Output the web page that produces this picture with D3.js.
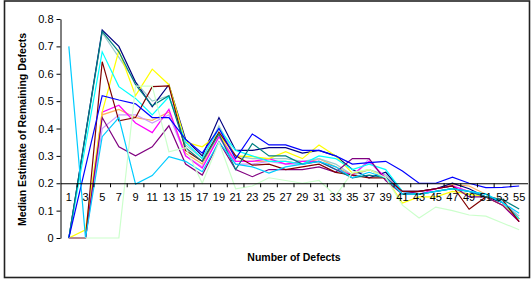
<!DOCTYPE html>
<html>
<head>
<meta charset="utf-8">
<script src="https://cdn.jsdelivr.net/npm/d3@7"></script>
<style>
  body { margin: 0; background: #fff; }
  svg { display: block; font-family: "Liberation Sans", Arial, sans-serif; }
</style>
</head>
<body>
<div id="chart"></div>
<script>
// defects chart — many series of median estimates, x axis crossing at 0.2

const categories = [1, 3, 5, 7, 9, 11, 13, 15, 17, 19, 21, 23, 25, 27,
                    29, 31, 33, 35, 37, 39, 41, 43, 45, 47, 49, 51, 53, 55];
const yTicks = [0, 0.1, 0.2, 0.3, 0.4, 0.5, 0.6, 0.7, 0.8];

const seriesNames  = ["orange", "lavender", "paleturq", "navy", "magenta", "yellow", "cyan",
                      "purple", "darkred", "teal", "blue", "skyblue", "lightgreen"];
const seriesColors = ["#FFB060", "#CC99FF", "#99CCCC", "#000080", "#FF00FF", "#FFFF00", "#00FFFF",
                      "#800080", "#800000", "#008080", "#0000FF", "#00CCFF", "#CCFFCC"];

const orange    = [0, 0, 0.45, 0.47, 0.44, 0.43, 0.46, 0.31, 0.27, 0.38, 0.28, 0.28, 0.28, 0.28, 0.27, 0.29, 0.26, 0.23, 0.25, 0.22, 0.16, 0.17, 0.18, 0.195, 0.19, 0.16, 0.13, 0.07];
const lavender  = [0, 0, 0.40, 0.45, 0.45, 0.42, 0.45, 0.30, 0.26, 0.37, 0.27, 0.27, 0.28, 0.27, 0.27, 0.28, 0.25, 0.22, 0.29, 0.21, 0.17, 0.17, 0.18, 0.19, 0.17, 0.15, 0.13, 0.08];
const paleturq  = [0, 0.37, 0.75, 0.66, 0.57, 0.50, 0.52, 0.34, 0.29, 0.41, 0.30, 0.29, 0.29, 0.29, 0.28, 0.29, 0.27, 0.23, 0.25, 0.23, 0.17, 0.16, 0.17, 0.18, 0.16, 0.15, 0.13, 0.08];
const navy      = [0, 0.38, 0.76, 0.70, 0.57, 0.48, 0.56, 0.36, 0.30, 0.44, 0.32, 0.32, 0.33, 0.33, 0.31, 0.32, 0.30, 0.25, 0.22, 0.24, 0.17, 0.17, 0.18, 0.20, 0.18, 0.15, 0.13, 0.07];
const magenta   = [0, 0, 0.46, 0.485, 0.42, 0.385, 0.47, 0.30, 0.255, 0.37, 0.28, 0.28, 0.29, 0.27, 0.28, 0.28, 0.25, 0.23, 0.28, 0.22, 0.17, 0.16, 0.18, 0.19, 0.17, 0.15, 0.12, 0.06];
const yellow    = [0, 0.03, 0.46, 0.685, 0.52, 0.617, 0.56, 0.35, 0.333, 0.38, 0.30, 0.297, 0.29, 0.315, 0.29, 0.34, 0.30, 0.237, 0.25, 0.22, 0.128, 0.15, 0.15, 0.17, 0.16, 0.15, 0.12, 0.07];
const cyan      = [0, 0.34, 0.68, 0.553, 0.51, 0.45, 0.516, 0.35, 0.29, 0.40, 0.32, 0.30, 0.28, 0.28, 0.27, 0.30, 0.29, 0.25, 0.27, 0.25, 0.17, 0.16, 0.17, 0.18, 0.17, 0.16, 0.13, 0.07];
const purple    = [0, 0, 0.44, 0.333, 0.30, 0.333, 0.41, 0.27, 0.23, 0.352, 0.25, 0.224, 0.25, 0.25, 0.25, 0.26, 0.24, 0.29, 0.29, 0.21, 0.16, 0.17, 0.18, 0.19, 0.15, 0.15, 0.12, 0.06];
const darkred   = [0, 0, 0.644, 0.428, 0.44, 0.553, 0.556, 0.32, 0.28, 0.387, 0.30, 0.266, 0.27, 0.25, 0.26, 0.27, 0.24, 0.23, 0.22, 0.22, 0.17, 0.17, 0.18, 0.19, 0.105, 0.15, 0.14, 0.06];
const teal      = [0, 0.38, 0.755, 0.68, 0.56, 0.483, 0.52, 0.33, 0.28, 0.38, 0.25, 0.345, 0.30, 0.30, 0.27, 0.28, 0.25, 0.22, 0.23, 0.22, 0.16, 0.16, 0.17, 0.18, 0.17, 0.15, 0.14, 0.106];
const blue      = [0, 0.26, 0.52, 0.504, 0.49, 0.44, 0.44, 0.36, 0.31, 0.40, 0.29, 0.38, 0.34, 0.34, 0.32, 0.32, 0.30, 0.27, 0.275, 0.28, 0.245, 0.20, 0.20, 0.222, 0.20, 0.184, 0.185, 0.19];
const skyblue   = [0.70, 0, 0.37, 0.44, 0.197, 0.228, 0.297, 0.28, 0.242, 0.35, 0.27, 0.26, 0.237, 0.26, 0.27, 0.28, 0.26, 0.22, 0.24, 0.22, 0.16, 0.16, 0.17, 0.18, 0.17, 0.16, 0.13, 0.09];
const lightgreen= [0, 0, 0, 0, 0.555, 0.555, 0.315, 0.33, 0.20, 0.35, 0.18, 0.19, 0.22, 0.21, 0.20, 0.21, 0.155, 0.24, 0.25, 0.22, 0.12, 0.073, 0.113, 0.10, 0.084, 0.08, 0.055, 0.03];

const seriesValues = [orange, lavender, paleturq, navy, magenta, yellow, cyan,
                      purple, darkred, teal, blue, skyblue, lightgreen];

// =============================================================================
// LAYOUT
// =============================================================================

const W = 532, H = 281;
const plotLeft = 60.5, plotRight = 527.5, plotTop = 19, plotBottom = 238;

const svg = d3.select("#chart").append("svg")
  .attr("width", W)
  .attr("height", H);

// chart frame
svg.append("rect")
  .attr("x", 4.5).attr("y", 1)
  .attr("width", 525).attr("height", 276.5)
  .attr("fill", "#fff")
  .attr("stroke", "#222")
  .attr("stroke-width", 1.6);

const x = d3.scaleBand()
  .domain(categories)
  .range([plotLeft, plotRight])
  .padding(0);

const y = d3.scaleLinear()
  .domain([0, 0.8])
  .range([plotBottom, plotTop]);

const cx = c => x(c) + x.bandwidth() / 2;

// --- lines ---
const line = d3.line()
  .x((d, i) => cx(categories[i]))
  .y(d => y(d));

svg.append("g")
  .selectAll("path")
  .data(seriesValues)
  .enter()
  .append("path")
  .attr("d", d => line(d))
  .attr("fill", "none")
  .attr("stroke", (d, i) => seriesColors[i])
  .attr("stroke-width", 1.2)
  .attr("stroke-linejoin", "miter");

// --- y axis ---
const yAxis = svg.append("g")
  .attr("transform", `translate(${plotLeft},0)`)
  .call(d3.axisLeft(y)
    .tickValues(yTicks)
    .tickSize(4)
    .tickSizeOuter(0)
    .tickPadding(3)
    .tickFormat(d => d === 0 ? "0" : d3.format(".1f")(d)));

// --- x axis, crossing at 0.2, ticks between categories ---
const xAxis = svg.append("g")
  .attr("transform", `translate(0,${y(0.2)})`)
  .call(d3.axisBottom(x)
    .tickSize(0)
    .tickSizeOuter(0)
    .tickPadding(10));

xAxis.selectAll(".between")
  .data(categories.slice(1))
  .enter()
  .append("line")
  .attr("class", "between")
  .attr("x1", d => x(d)).attr("x2", d => x(d))
  .attr("y1", 0).attr("y2", 4)
  .attr("stroke", "#000");

[yAxis, xAxis].forEach(g => {
  g.selectAll(".domain").attr("stroke", "#000").attr("stroke-width", 1);
  g.selectAll(".tick line").attr("stroke", "#000");
  g.selectAll("text")
    .style("font-family", "'Liberation Sans', Arial, sans-serif")
    .style("font-size", "11px")
    .attr("fill", "#000");
});

// --- axis titles ---
svg.append("text")
  .attr("transform", "rotate(-90)")
  .attr("x", -129.5)
  .attr("y", 26)
  .attr("text-anchor", "middle")
  .style("font-size", "10.5px")
  .style("font-weight", "bold")
  .text("Median Estimate of Remaining Defects");

svg.append("text")
  .attr("x", 294)
  .attr("y", 261)
  .attr("text-anchor", "middle")
  .style("font-size", "10.5px")
  .style("font-weight", "bold")
  .text("Number of Defects");
</script>
</body>
</html>
